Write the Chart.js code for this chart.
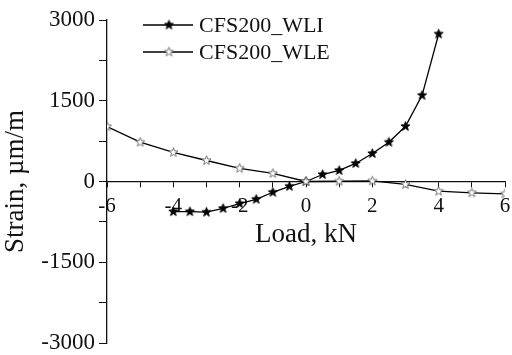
<!DOCTYPE html>
<html>
<head>
<meta charset="utf-8">
<script src="https://cdn.jsdelivr.net/npm/chart.js@4/dist/chart.umd.min.js"></script>
<style>
  html, body { margin: 0; padding: 0; background: #fff; }
  #wrap { width: 512px; height: 355px; }
</style>
</head>
<body>
<div id="wrap"><canvas id="chart"></canvas></div>
<script>
// data
const wliLoad = [-4, -3.5, -3, -2.5, -2, -1.5, -1, -0.5, 0, 0.5, 1, 1.5, 2, 2.5, 3, 3.5, 4];
const wliStrain = [-560, -560, -570, -500, -410, -330, -200, -90, 0, 130, 205, 335, 520, 730, 1025, 1600, 2740];
const wleLoad = [-6, -5, -4, -3, -2, -1, 0, 1, 2, 3, 4, 5, 6];
const wleStrain = [1020, 730, 540, 390, 245, 150, 0, 5, 10, -55, -180, -210, -230];
const seriesNames = ['CFS200_WLI', 'CFS200_WLE'];
const xTicks = [-6, -4, -2, 0, 2, 4, 6];
const yTicks = [-3000, -1500, 0, 1500, 3000];

const FONT = '"Liberation Serif", "Times New Roman", serif';
const INK = '#111';

// five point star markers
function makeStar(fill, stroke, r) {
    const size = Math.ceil(r * 2 + 3);
    const c = document.createElement('canvas');
    c.width = size; c.height = size;
    const g = c.getContext('2d');
    const cx = size / 2, cy = size / 2;
    g.beginPath();
    for (let i = 0; i < 10; i++) {
        const rad = i % 2 === 0 ? r : r * 0.42;
        const a = -Math.PI / 2 + i * Math.PI / 5;
        const px = cx + rad * Math.cos(a), py = cy + rad * Math.sin(a);
        if (i === 0) g.moveTo(px, py); else g.lineTo(px, py);
    }
    g.closePath();
    g.fillStyle = fill;
    g.fill();
    g.lineWidth = 0.9;
    g.strokeStyle = stroke;
    g.stroke();
    return c;
}
const starFilled = makeStar('#000', '#000', 4.8);
const starOpen = makeStar('#fff', '#666', 4.8);

// legend inside the plot, line with marker in the middle
const lineLegend = {
    id: 'lineLegend',
    afterDraw(chart) {
        const ctx = chart.ctx;
        const marks = [starFilled, starOpen];
        ctx.save();
        seriesNames.forEach((name, i) => {
            const y = 25 + i * 27;
            ctx.strokeStyle = '#000';
            ctx.lineWidth = 1.3;
            ctx.beginPath();
            ctx.moveTo(143, y);
            ctx.lineTo(193, y);
            ctx.stroke();
            const m = marks[i];
            ctx.drawImage(m, 169 - m.width / 2, y - m.height / 2);
            ctx.fillStyle = INK;
            ctx.font = '22px ' + FONT;
            ctx.textBaseline = 'middle';
            ctx.fillText(name, 199, y + 1);
        });
        ctx.restore();
    }
};

// let layout padding alone decide the plot box
function noPad(scale) {
    scale.paddingTop = 0;
    scale.paddingBottom = 0;
    scale.paddingLeft = 0;
    scale.paddingRight = 0;
}

new Chart(document.getElementById('chart'), {
    type: 'line',
    data: {
        datasets: [{
            label: seriesNames[1],
            data: wleLoad.map((x, i) => ({ x, y: wleStrain[i] })),
            borderColor: '#000',
            borderWidth: 1.3,
            pointStyle: starOpen,
            tension: 0,
        }, {
            label: seriesNames[0],
            data: wliLoad.map((x, i) => ({ x, y: wliStrain[i] })),
            borderColor: '#000',
            borderWidth: 1.3,
            pointStyle: starFilled,
            tension: 0,
        }],
    },
    options: {
        responsive: true,
        maintainAspectRatio: false,
        animation: false,
        layout: { padding: { left: 0, top: 20, right: 7, bottom: 12 } },
        plugins: { legend: { display: false }, tooltip: { enabled: false } },
        scales: {
            x: {
                type: 'linear',
                position: { y: 0 },
                min: -6,
                max: 6,
                ticks: {
                    stepSize: 1,
                    autoSkip: false,
                    maxRotation: 0,
                    padding: 7,
                    color: INK,
                    font: { family: FONT, size: 21 },
                    callback: (v) => xTicks.includes(v) ? String(v) : '',
                },
                grid: { drawOnChartArea: false, tickLength: 5, color: '#111' },
                border: { color: '#111', width: 1.3 },
                title: {
                    display: true,
                    text: 'Load, kN',
                    color: INK,
                    font: { family: FONT, size: 27 },
                    padding: { top: -7, bottom: 0 },
                },
                afterFit: noPad,
            },
            y: {
                min: -3000,
                max: 3000,
                ticks: {
                    stepSize: 750,
                    autoSkip: false,
                    padding: 4,
                    color: INK,
                    font: { family: FONT, size: 23 },
                    callback: (v) => yTicks.includes(v) ? String(v) : '',
                },
                grid: { drawOnChartArea: false, tickLength: 8, color: '#111' },
                border: { color: '#111', width: 1.3 },
                title: {
                    display: true,
                    text: 'Strain, µm/m',
                    color: INK,
                    font: { family: FONT, size: 27 },
                    padding: { top: 0, bottom: 6 },
                },
                afterFit: (scale) => { noPad(scale); scale.width = 107; },
            },
        },
    },
    plugins: [lineLegend],
});
</script>
</body>
</html>
